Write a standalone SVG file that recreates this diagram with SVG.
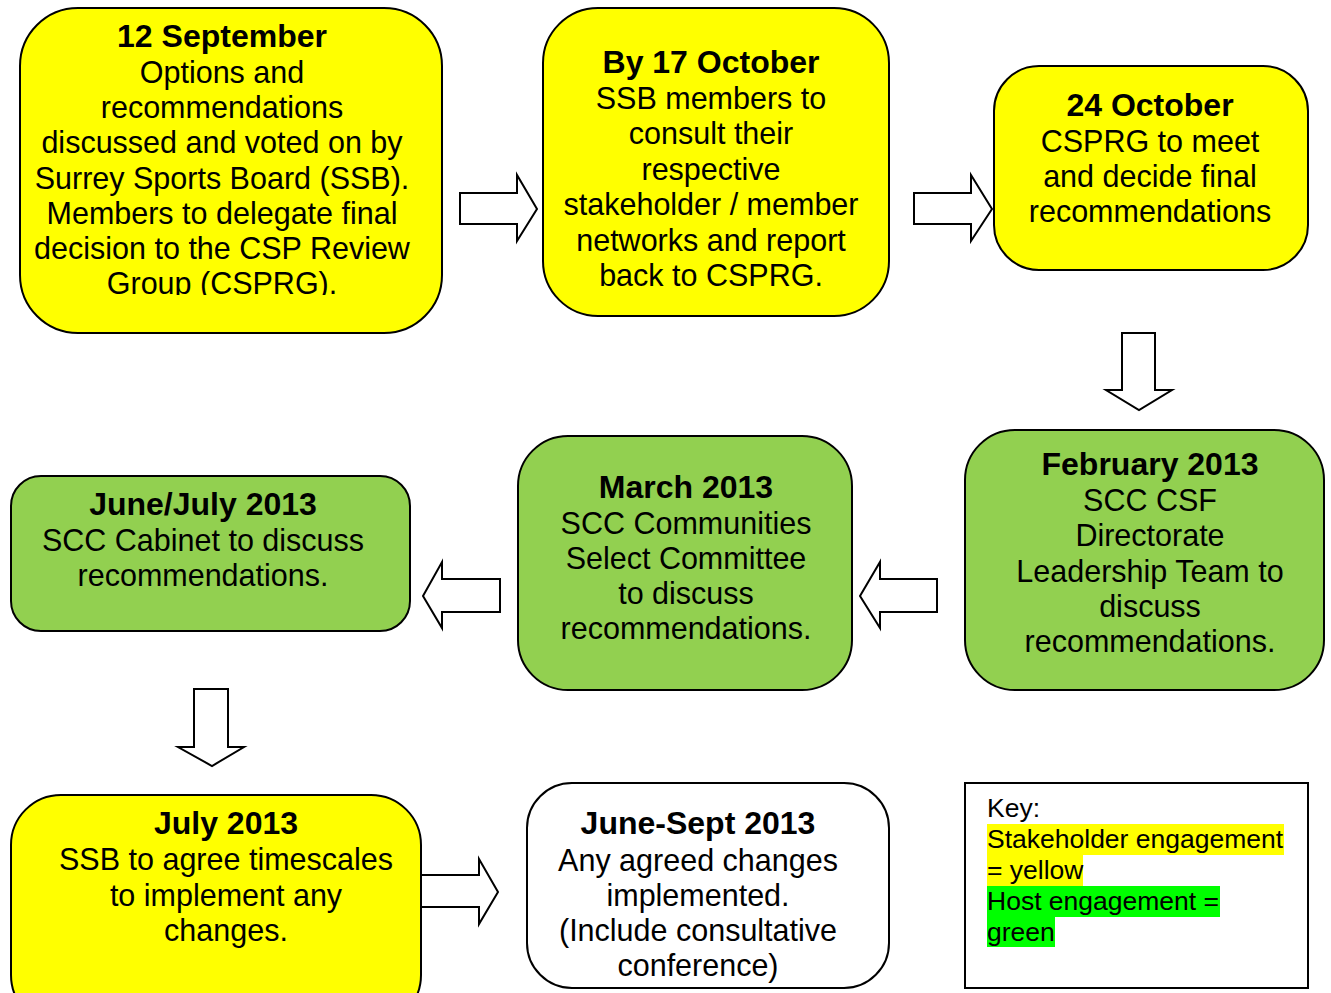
<svg xmlns="http://www.w3.org/2000/svg" width="1331" height="993" viewBox="0 0 1331 993">
<style>
.y{fill:#ffff00;stroke:#000;stroke-width:2}
.g{fill:#92d050;stroke:#000;stroke-width:2}
.w{fill:#fff;stroke:#000;stroke-width:2}
.arr{fill:#fff;stroke:#000;stroke-width:2;stroke-linejoin:miter}
text{font-family:"Liberation Sans",Arial,sans-serif;font-size:30.5px;fill:#000;text-anchor:middle}
.b{font-weight:bold;font-size:32px}
.k{font-size:26.5px;text-anchor:start}
</style>
<defs>
<clipPath id="c1"><rect x="20" y="8" width="422" height="287"/></clipPath>
</defs>
<rect width="1331" height="993" fill="#fff"/>
<g id="connectors">
<path class="arr" d="M460,193 H517 V175 L537,209 L517,241 V224 H460 Z"/>
<path class="arr" d="M914,193 H971 V175 L992,209 L971,241 V224 H914 Z"/>
<path class="arr" d="M1122,333 H1155 V390 H1172 L1139,410 L1106,390 H1122 Z"/>
<path class="arr" d="M937,579 H880 V562 L860,596 L880,628 V612 H937 Z"/>
<path class="arr" d="M500,579 H442 V562 L423,596 L442,628 V612 H500 Z"/>
<path class="arr" d="M194,689 H228 V747 H244 L212,766 L178,747 H194 Z"/>
<path class="arr" d="M421,875 H479 V859 L498,892 L479,924 V907 H421"/>
</g>
<g id="n1">
<rect class="y" x="20" y="8" width="422" height="325" rx="58"/>
<g clip-path="url(#c1)">
<text x="222" y="47" class="b">12 September</text>
<text x="222" y="83">Options and</text>
<text x="222" y="118">recommendations</text>
<text x="222" y="153">discussed and voted on by</text>
<text x="222" y="189">Surrey Sports Board (SSB).</text>
<text x="222" y="224">Members to delegate final</text>
<text x="222" y="259">decision to the CSP Review</text>
<text x="222" y="294">Group (CSPRG).</text>
</g>
</g>
<g id="n2">
<rect class="y" x="543" y="8" width="346" height="308" rx="55"/>
<text x="711" y="73" class="b">By 17 October</text>
<text x="711" y="109">SSB members to</text>
<text x="711" y="144">consult their</text>
<text x="711" y="180">respective</text>
<text x="711" y="215">stakeholder / member</text>
<text x="711" y="251">networks and report</text>
<text x="711" y="286">back to CSPRG.</text>
</g>
<g id="n3">
<rect class="y" x="994" y="66" width="314" height="204" rx="45"/>
<text x="1150" y="116" class="b">24 October</text>
<text x="1150" y="152">CSPRG to meet</text>
<text x="1150" y="187">and decide final</text>
<text x="1150" y="222">recommendations</text>
</g>
<g id="n4">
<rect class="g" x="965" y="430" width="359" height="260" rx="50"/>
<text x="1150" y="475" class="b">February 2013</text>
<text x="1150" y="511">SCC CSF</text>
<text x="1150" y="546">Directorate</text>
<text x="1150" y="582">Leadership Team to</text>
<text x="1150" y="617">discuss</text>
<text x="1150" y="652">recommendations.</text>
</g>
<g id="n5">
<rect class="g" x="518" y="436" width="334" height="254" rx="50"/>
<text x="686" y="498" class="b">March 2013</text>
<text x="686" y="534">SCC Communities</text>
<text x="686" y="569">Select Committee</text>
<text x="686" y="604">to discuss</text>
<text x="686" y="639">recommendations.</text>
</g>
<g id="n6">
<rect class="g" x="11" y="476" width="399" height="155" rx="30"/>
<text x="203" y="515" class="b">June/July 2013</text>
<text x="203" y="551">SCC Cabinet to discuss</text>
<text x="203" y="586">recommendations.</text>
</g>
<g id="n7">
<rect class="y" x="11" y="795" width="410" height="230" rx="50"/>
<text x="226" y="834" class="b">July 2013</text>
<text x="226" y="870">SSB to agree timescales</text>
<text x="226" y="906">to implement any</text>
<text x="226" y="941">changes.</text>
</g>
<g id="n8">
<rect class="w" x="527" y="783" width="362" height="205" rx="45"/>
<text x="698" y="834" class="b">June-Sept 2013</text>
<text x="698" y="871">Any agreed changes</text>
<text x="698" y="906">implemented.</text>
<text x="698" y="941">(Include consultative</text>
<text x="698" y="976">conference)</text>
</g>
<g id="key">
<rect x="965" y="783" width="343" height="205" fill="#fff" stroke="#000" stroke-width="2"/>
<rect x="987" y="824" width="297" height="31" fill="#ffff00"/>
<rect x="987" y="855" width="96" height="31" fill="#ffff00"/>
<rect x="987" y="886" width="233" height="31" fill="#00ff00"/>
<rect x="987" y="917" width="68" height="30" fill="#00ff00"/>
<text x="987" y="817" class="k">Key:</text>
<text x="987" y="848" class="k">Stakeholder engagement</text>
<text x="987" y="879" class="k">= yellow</text>
<text x="987" y="910" class="k">Host engagement =</text>
<text x="987" y="941" class="k">green</text>
</g>
</svg>
